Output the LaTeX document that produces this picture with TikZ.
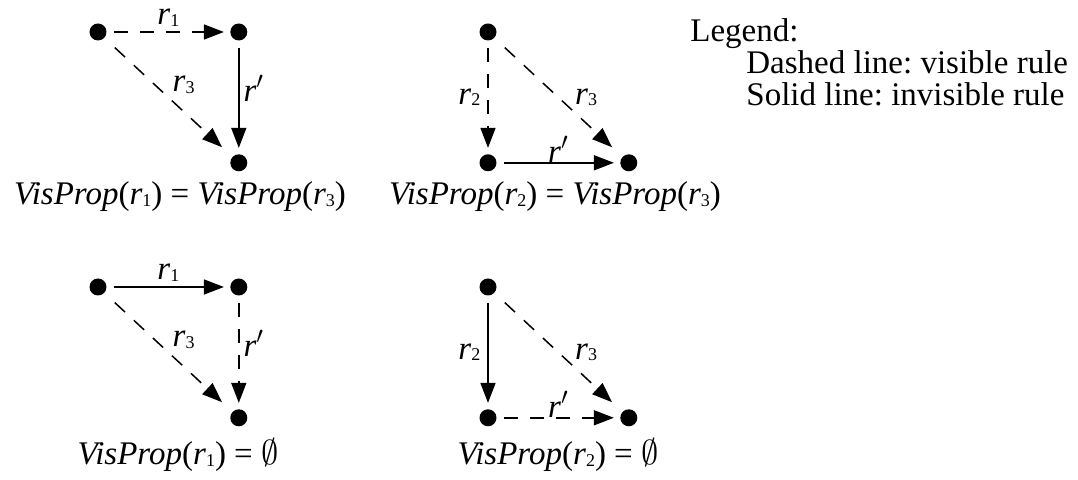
\documentclass[tikz,border=0pt]{standalone}
\usepackage{fontspec}
\setmainfont{Liberation Serif}
\usetikzlibrary{arrows.meta,positioning}
\frenchspacing
\newcommand{\fs}{\fontsize{16.5pt}{20pt}\selectfont}
\newcommand{\rs}[1]{\textit{r}\raisebox{-.8pt}{\fontsize{9pt}{9pt}\selectfont #1}}
\newcommand{\rp}{\textit{r}$'$}
\newcommand{\vp}[1]{\textit{VisProp}(\rs{#1})}
\tikzset{
  dot/.style  ={circle, fill=black, inner sep=0pt, minimum size=8.5pt},
  lbl/.style  ={font=\fs, inner sep=1pt},
  capt/.style ={font=\fs, inner sep=0pt},
  edgeline/.style ={-{Triangle[length=10pt,width=7.5pt]}, line width=.75pt,
                shorten <=3.5pt, shorten >=3pt},
  vis/.style  ={edgeline, dash pattern=on 7pt off 6pt},
  inv/.style  ={edgeline},
  diag/.style ={shorten <=7pt, shorten >=7pt},
}

\begin{document}
\begin{tikzpicture}[x=.5pt, y=-.5pt, node distance=56.5pt and 61.5pt]
  \useasboundingbox (0,0) rectangle (1078,480);
  % --- top left: r1 dashed, r' solid ---
  \node[dot] (a1) at (98,32) {};
  \node[dot, right=of a1] (b1) {};
  \node[dot, below=of b1] (c1) {};
  \draw[vis] (a1) -- node[lbl, above=1.5pt] {\rs{1}} (b1);
  \draw[inv] (b1) -- node[lbl, right=1pt, pos=.42] {\rp} (c1);
  \draw[vis, diag] (a1) -- node[lbl, above right=1pt] {\rs{3}} (c1);
  \node[capt] (cap1) at (180,197) {\vp{1} = \vp{3}};
  % --- top right: r2 dashed, r' solid ---
  \node[dot] (a2) at (488,32) {};
  \node[dot, below=of a2] (b2) {};
  \node[dot, right=of b2] (c2) {};
  \draw[vis] (a2) -- node[lbl, left=2.5pt] {\rs{2}} (b2);
  \draw[inv] (b2) -- node[lbl, above, inner sep=0pt] {\rp} (c2);
  \draw[vis, diag] (a2) -- node[lbl, right=7pt] {\rs{3}} (c2);
  \node[capt] (cap2) at (555,197) {\vp{2} = \vp{3}};
  % --- legend ---
  \node[capt, anchor=base west] (leg) at (690,42) {Legend:};
  \node[capt, anchor=base west] (dsh) at (746,74) {Dashed line: visible rule};
  \node[capt, anchor=base west] (sld) at (746,106) {Solid line: invisible rule};
  % --- bottom left: r1 solid, r' dashed ---
  \node[dot] (a3) at (98,287) {};
  \node[dot, right=of a3] (b3) {};
  \node[dot, below=of b3] (c3) {};
  \draw[inv] (a3) -- node[lbl, above=1.5pt] {\rs{1}} (b3);
  \draw[vis] (b3) -- node[lbl, right=1pt, pos=.42] {\rp} (c3);
  \draw[vis, diag] (a3) -- node[lbl, above right=1pt] {\rs{3}} (c3);
  \node[capt] (cap3) at (178,455) {\vp{1} = $\emptyset$};
  % --- bottom right: r2 solid, r' dashed ---
  \node[dot] (a4) at (488,287) {};
  \node[dot, below=of a4] (b4) {};
  \node[dot, right=of b4] (c4) {};
  \draw[inv] (a4) -- node[lbl, left=2.5pt] {\rs{2}} (b4);
  \draw[vis] (b4) -- node[lbl, above, inner sep=0pt] {\rp} (c4);
  \draw[vis, diag] (a4) -- node[lbl, right=7pt] {\rs{3}} (c4);
  \node[capt] (cap4) at (558,455) {\vp{2} = $\emptyset$};
\end{tikzpicture}
\end{document}
